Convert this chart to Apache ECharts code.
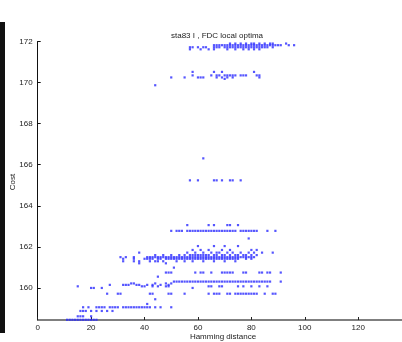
<!DOCTYPE html>
<html>
<head>
<meta charset="utf-8">
<script src="https://cdn.jsdelivr.net/npm/echarts@6/dist/echarts.min.js"></script>
<style>html,body{margin:0;padding:0;background:#fff}#c{width:402px;height:342px}</style>
</head>
<body>
<div id="c"></div>
<script>
// Tick labels
const xTicks = [0, 20, 40, 60, 80, 100, 120];
const yTicks = [160, 162, 164, 166, 168, 170, 172];

// Local optima: each band is one cost level with the Hamming distances seen at it
const band_171_90 = [72, 74, 76, 78, 80, 81, 83, 85, 87, 88, 93];
const band_171_82 = [66, 67, 68, 69, 70, 71, 72, 73, 74, 75, 76, 77, 78, 79, 80, 81, 82, 83, 84, 85, 86, 87, 88, 89, 90, 91, 94, 96];
const band_171_72 = [57, 58, 60, 62, 63, 66, 67, 68, 70, 71, 72, 73, 74, 75, 76, 77, 78, 79, 80, 81, 82, 83, 84, 85, 86, 88];
const band_171_62 = [57, 61, 64, 66, 71, 74, 77, 79, 81, 83];
const band_170_52 = [58, 66, 69, 81];
const band_170_35 = [58, 65, 67, 68, 70, 71, 72, 73, 74, 76, 77, 78, 82, 83];
const band_170_25 = [50, 55, 60, 61, 62, 67, 69, 71, 73, 83];
const band_170_18 = [70];
const band_169_87 = [44];
const band_166_31 = [62];
const band_165_24 = [57, 60, 66, 67, 69, 72, 73, 76];
const band_163_06 = [56, 64, 66, 71, 72, 75];
const band_162_78 = [50, 52, 53, 54, 56, 57, 58, 59, 60, 61, 62, 63, 64, 65, 66, 67, 68, 69, 70, 71, 72, 73, 74, 76, 77, 78, 79, 80, 81, 82, 86, 89];
const band_162_41 = [79];
const band_162_04 = [60, 66, 70, 75];
const band_161_85 = [58, 61, 64, 69, 72, 80, 82];
const band_161_72 = [38, 56, 59, 62, 65, 67, 68, 71, 73, 76, 79, 81, 84, 88];
const band_161_60 = [44, 47, 50, 53, 55, 57, 58, 59, 60, 61, 62, 63, 64, 66, 67, 69, 70, 72, 74, 75, 77, 78, 80, 82];
const band_161_50 = [31, 33, 36, 41, 42, 43, 44, 45, 46, 47, 48, 49, 50, 51, 52, 53, 54, 55, 56, 57, 58, 59, 60, 61, 62, 63, 64, 65, 66, 67, 68, 69, 70, 71, 72, 73, 74, 75, 76, 77, 78, 79, 80, 81];
const band_161_42 = [32, 36, 40, 41, 42, 43, 45, 46, 48, 49, 50, 51, 52, 53, 54, 55, 56, 57, 58, 59, 60, 61, 62, 63, 64, 65, 66, 67, 68, 69, 70, 71, 72, 73, 74, 75, 78, 80];
const band_161_30 = [32, 36, 38, 42, 44, 45, 47, 52, 55, 58, 62, 66, 70, 74];
const band_161_20 = [38, 48];
const band_160_99 = [51];
const band_160_75 = [48, 49, 50, 59, 61, 62, 65, 69, 70, 71, 72, 73, 77, 78, 83, 84, 86, 87, 91];
const band_160_55 = [45];
const band_160_31 = [51, 52, 53, 54, 55, 56, 57, 58, 59, 60, 61, 62, 63, 64, 65, 66, 67, 68, 69, 70, 71, 72, 73, 74, 75, 76, 77, 78, 79, 80, 81, 82, 83, 84, 85, 86, 87, 91];
const band_160_22 = [35, 36, 44, 48, 50];
const band_160_15 = [27, 32, 33, 34, 37, 38, 41, 43, 46, 49];
const band_160_08 = [15, 39, 40, 43, 45, 48, 49, 64, 65, 68, 69, 75, 77, 80, 83, 86];
const band_160_00 = [20, 21, 24, 58];
const band_159_72 = [26, 30, 31, 42, 43, 49, 50, 55, 64, 66, 67, 68, 71, 72, 74, 75, 76, 77, 78, 79, 80, 81, 82, 85, 88, 89];
const band_159_45 = [44];
const band_159_22 = [41];
const band_159_06 = [17, 19, 22, 23, 24, 25, 27, 28, 29, 30, 32, 33, 34, 35, 36, 37, 38, 39, 40, 41, 42, 44, 46, 50];
const band_158_88 = [16, 17, 18, 20, 22, 24, 26, 28];
const band_158_62 = [15, 16, 17, 20];
const band_158_45 = [11, 12, 13, 14, 15, 16, 17, 18, 19, 20, 21, 22];

const bands = [
  [171.90, band_171_90], [171.82, band_171_82], [171.72, band_171_72], [171.62, band_171_62],
  [170.52, band_170_52], [170.35, band_170_35], [170.25, band_170_25], [170.18, band_170_18],
  [169.87, band_169_87], [166.31, band_166_31], [165.24, band_165_24], [163.06, band_163_06],
  [162.78, band_162_78], [162.41, band_162_41], [162.04, band_162_04], [161.85, band_161_85],
  [161.72, band_161_72], [161.60, band_161_60], [161.50, band_161_50], [161.42, band_161_42],
  [161.30, band_161_30], [161.20, band_161_20], [160.99, band_160_99], [160.75, band_160_75],
  [160.55, band_160_55], [160.31, band_160_31], [160.22, band_160_22], [160.15, band_160_15],
  [160.08, band_160_08], [160.00, band_160_00], [159.72, band_159_72], [159.45, band_159_45],
  [159.22, band_159_22], [159.06, band_159_06], [158.88, band_158_88], [158.62, band_158_62],
  [158.45, band_158_45]
];
const points = [];
bands.forEach(([cost, hs]) => hs.forEach(h => points.push([h, cost])));

const chart = echarts.init(document.getElementById('c'), null, {renderer: 'canvas'});
const FONT = 'Liberation Sans, Arial, sans-serif';
const labelStyle = {color: '#222', fontSize: 8, fontFamily: FONT};
chart.setOption({
  animation: false,
  backgroundColor: '#fff',
  title: {
    text: 'sta83 I , FDC local optima',
    left: 212, top: 27, textAlign: 'center',
    textStyle: {fontSize: 8, fontWeight: 'normal', color: '#222', fontFamily: FONT}
  },
  grid: {left: 37.7, right: 0, top: 41.5, bottom: 22, containLabel: false, outerBoundsMode: 'none'},
  xAxis: {
    type: 'value', min: 0, max: 136.4, interval: 20,
    axisLine: {show: true, lineStyle: {color: '#555', width: 1.5}},
    axisTick: {show: true, inside: true, length: 3, lineStyle: {color: '#222'}},
    axisLabel: Object.assign({margin: 4, showMaxLabel: false}, labelStyle),
    splitLine: {show: false}
  },
  yAxis: {
    type: 'value', min: 158.44, max: 172,
    axisLine: {show: true, lineStyle: {color: '#111', width: 1}},
    axisTick: {show: true, inside: true, length: 3, customValues: yTicks, lineStyle: {color: '#111'}},
    axisLabel: Object.assign({
      margin: 5,
      customValues: yTicks,
      formatter: v => String(v)
    }, labelStyle),
    splitLine: {show: false}
  },
  graphic: [
    {type: 'rect', shape: {x: 0, y: 22, width: 5, height: 311}, style: {fill: '#111'}},
    {type: 'text', x: 223, y: 337, style: {text: 'Hamming distance', fill: '#222', font: '8px ' + FONT, textAlign: 'center', textVerticalAlign: 'middle'}},
    {type: 'text', x: 13, y: 182, rotation: Math.PI / 2, style: {text: 'Cost', fill: '#222', font: '8px ' + FONT, textAlign: 'center', textVerticalAlign: 'middle'}}
  ],
  series: [{
    type: 'scatter',
    data: points,
    symbol: 'rect',
    symbolSize: 2.2,
    clip: false,
    itemStyle: {color: '#2a2aff'}
  }]
});
</script>
</body>
</html>
